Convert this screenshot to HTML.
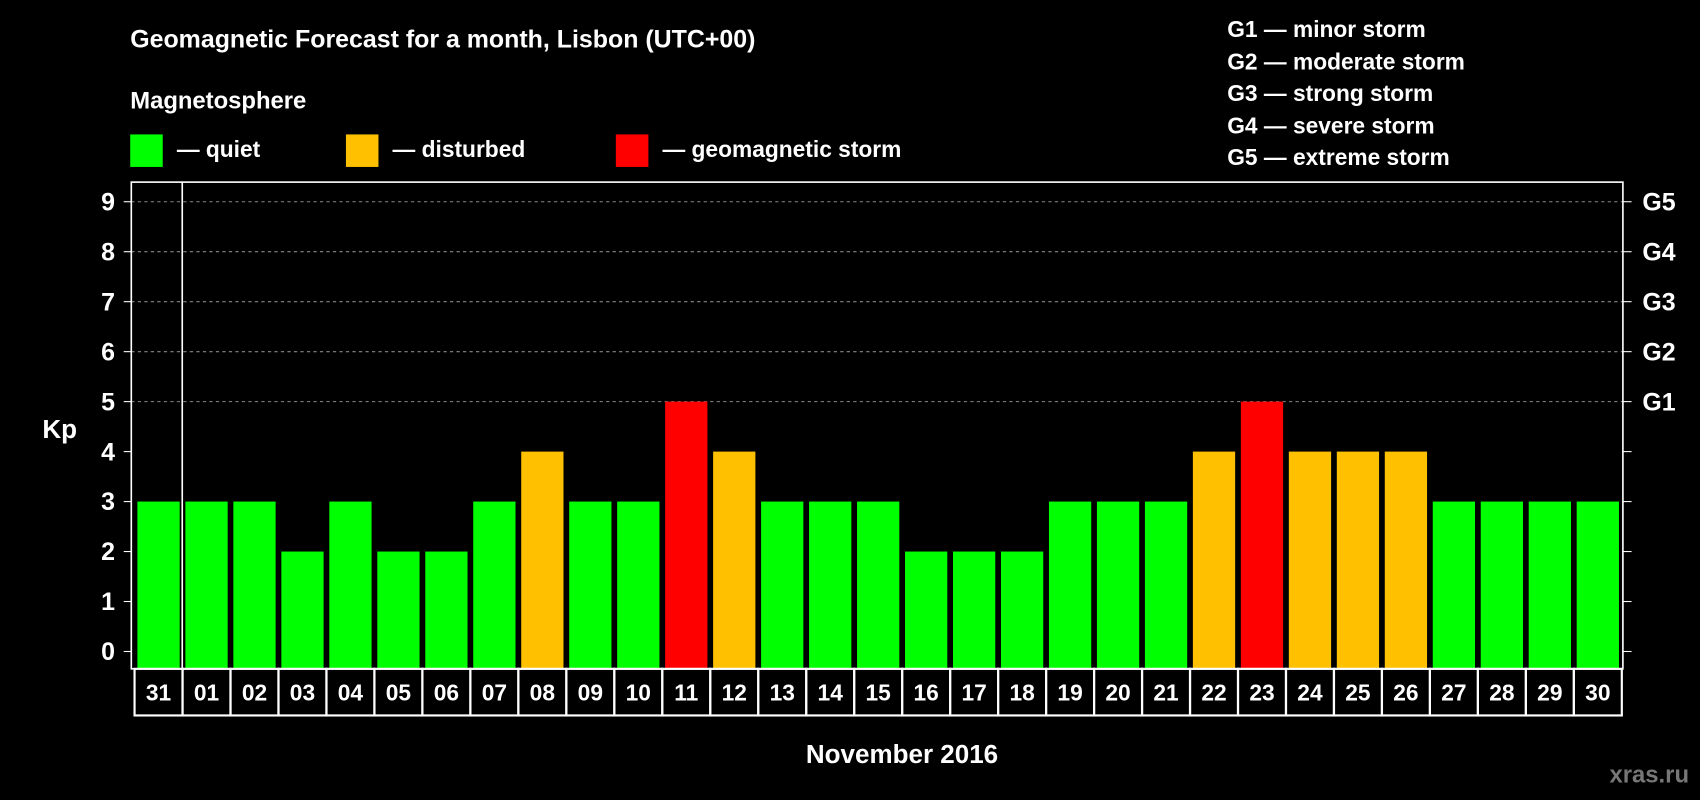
<!DOCTYPE html>
<html><head><meta charset="utf-8"><style>
html,body{margin:0;padding:0;background:#000;}
svg{display:block;font-family:"Liberation Sans",Arial,sans-serif;font-weight:bold;}
</style></head><body>
<svg id="chart" width="1700" height="800" viewBox="0 0 1568 738" xmlns="http://www.w3.org/2000/svg">
<rect width="1568" height="738" fill="#000"/>
<text x="120" y="44" fill="#fff" font-size="23">Geomagnetic Forecast for a month, Lisbon (UTC+00)</text>
<text x="120" y="100" fill="#fff" font-size="22">Magnetosphere</text>
<rect x="120" y="124" width="30" height="30" fill="#00ff00"/>
<text x="163" y="145" fill="#fff" font-size="21">— quiet</text>
<rect x="319" y="124" width="30" height="30" fill="#ffc000"/>
<text x="362" y="145" fill="#fff" font-size="21">— disturbed</text>
<rect x="568" y="124" width="30" height="30" fill="#ff0000"/>
<text x="611" y="145" fill="#fff" font-size="21">— geomagnetic storm</text>
<g fill="#fff" font-size="21">
<text x="1132" y="34">G1 — minor storm</text>
<text x="1132" y="64">G2 — moderate storm</text>
<text x="1132" y="93">G3 — strong storm</text>
<text x="1132" y="123">G4 — severe storm</text>
<text x="1132" y="152">G5 — extreme storm</text>
</g>
<text x="39" y="404" fill="#fff" font-size="24">Kp</text>
<text x="832" y="704" fill="#fff" font-size="24" text-anchor="middle">November 2016</text>
<text x="1558" y="722" fill="#777" font-size="22" text-anchor="end">xras.ru</text>
<g id="plot"></g>
</svg>
<script>
const days = ["31","01","02","03","04","05","06","07","08","09","10","11","12","13","14","15","16","17","18","19","20","21","22","23","24","25","26","27","28","29","30"];
const kp = [3,3,3,2,3,2,2,3,4,3,3,5,4,3,3,3,2,2,2,3,3,3,4,5,4,4,4,3,3,3,3];
const yTicks = [0,1,2,3,4,5,6,7,8,9];
const gLabels = ["G1","G2","G3","G4","G5"];
const gLevels = [5,6,7,8,9];

const NS = "http://www.w3.org/2000/svg";
const g = document.getElementById("plot");
const L = 121, R = 1497, T = 168, B = 617;
const y = v => 601 - v * 46.1;
const step = (1496 - 124) / days.length;
const xc = i => 124 + step * (i + 0.5);
function mk(tag, attrs){const e=document.createElementNS(NS,tag);for(const k in attrs)e.setAttribute(k,attrs[k]);g.appendChild(e);return e;}

gLevels.forEach((v,i)=>{
  const l = mk("line",{x1:L,x2:R,y1:y(v),y2:y(v),stroke:"#888","stroke-dasharray":"3,3"});
  
  
  const t = mk("text",{x:1515,y:y(v)+8,fill:"#fff","font-size":23});
  t.textContent = gLabels[i];
  
  
});
yTicks.forEach(v=>{
  mk("line",{x1:114,x2:L,y1:y(v),y2:y(v),stroke:"#fff"});
  mk("line",{x1:R,x2:1505,y1:y(v),y2:y(v),stroke:"#fff"});
  const t = mk("text",{x:106,y:y(v)+8,fill:"#fff","font-size":23,"text-anchor":"end"});
  t.textContent = v;
  
  
});
kp.forEach((v,i)=>{
  const col = v>=5 ? "#ff0000" : v>=4 ? "#ffc000" : "#00ff00";
  const b = mk("rect",{x:xc(i)-19.5,y:y(v),width:39,height:y(0)-y(v)+16,fill:col});
  
  
  const c = mk("rect",{x:124+step*i,y:B,width:step,height:43,fill:"none",stroke:"#fff","stroke-width":2});
  
  
  const t = mk("text",{x:xc(i),y:646,fill:"#fff","font-size":21,"text-anchor":"middle"});
  t.textContent = days[i];
  
  
});
const f = mk("rect",{x:L,y:T,width:R-L,height:B-T,fill:"none",stroke:"#fff","stroke-width":1.5});


const sep = mk("line",{x1:168,x2:168,y1:T,y2:B,stroke:"#fff","stroke-width":1.5});


</script>
</body></html>
